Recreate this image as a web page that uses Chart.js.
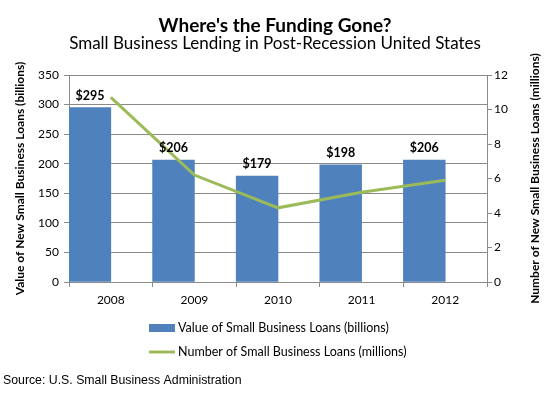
<!DOCTYPE html>
<html>
<head>
<meta charset="utf-8">
<script src="https://cdn.jsdelivr.net/npm/chart.js@4/dist/chart.umd.min.js"></script>
<style>
  html, body { margin: 0; padding: 0; background: #fff; }
  #wrap { width: 550px; height: 397px; position: relative; }
</style>
</head>
<body>
<div id="wrap"><canvas id="fundingChart" width="550" height="397"></canvas></div>
<script>
// chart data
const years = ['2008', '2009', '2010', '2011', '2012'];
const loanValues = [295, 206, 179, 198, 206];      // billions of dollars
const loanCounts = [10.7, 6.2, 4.3, 5.2, 5.9];     // millions of loans
const emptySlot = [null, null, null, null, null];  // keeps bars in the left half of each year
const leftTicks = [0, 50, 100, 150, 200, 250, 300, 350];
const rightTicks = [0, 2, 4, 6, 8, 10, 12];
const rightTitle = 'Number of New Small Business Loans (millions)';

const FONT = 'Lato, "Open Sans", sans-serif';
const GRID = '#8a8a8a';

// "$295" style labels above the bars
const barLabels = {
    id: 'barLabels',
    afterDatasetsDraw(chart) {
        const ctx = chart.ctx;
        const meta = chart.getDatasetMeta(0);
        ctx.save();
        ctx.font = 'bold 12.5px ' + FONT;
        ctx.fillStyle = '#000';
        ctx.textAlign = 'center';
        ctx.textBaseline = 'middle';
        meta.data.forEach(function (bar, i) {
            ctx.fillText('$' + chart.data.datasets[0].data[i], bar.x, bar.y - 12);
        });
        ctx.restore();
    }
};

// stacked legend under the plot, right axis title (reads bottom to top) and the source note
const stackedLegend = {
    id: 'stackedLegend',
    afterDraw(chart) {
        const ctx = chart.ctx;
        const x = 149;
        let row = 0;
        ctx.save();
        ctx.font = '12.5px ' + FONT;
        ctx.textBaseline = 'middle';
        chart.data.datasets.forEach(function (ds) {
            if (!ds.label) return;
            const y = 328 + row * 24;
            row++;
            if (ds.type === 'line') {
                ctx.strokeStyle = ds.borderColor;
                ctx.lineWidth = 3;
                ctx.beginPath();
                ctx.moveTo(x, y);
                ctx.lineTo(x + 26, y);
                ctx.stroke();
            } else {
                ctx.fillStyle = ds.backgroundColor;
                ctx.fillRect(x, y - 4, 26, 8);
            }
            ctx.fillStyle = '#000';
            ctx.fillText(ds.label, x + 29, y);
        });
        ctx.font = '12.3px "Liberation Sans", Arial, sans-serif';
        ctx.fillText('Source: U.S. Small Business Administration', 3, 381);

        const area = chart.chartArea;
        ctx.save();
        ctx.translate(535, (area.top + area.bottom) / 2);
        ctx.rotate(-Math.PI / 2);
        ctx.font = 'bold 12px ' + FONT;
        ctx.textAlign = 'center';
        ctx.fillText(rightTitle, 0, 0);
        ctx.restore();
        ctx.restore();
    }
};

const ctx = document.getElementById('fundingChart').getContext('2d');
const chart = new Chart(ctx, {
    type: 'bar',
    data: {
        labels: years,
        datasets: [{
            label: 'Value of Small Business Loans (billions)',
            data: loanValues,
            backgroundColor: '#4f81bd',
            yAxisID: 'y',
            order: 1
        }, {
            label: '',
            data: emptySlot,
            backgroundColor: 'rgba(0,0,0,0)',
            yAxisID: 'y',
            order: 2
        }, {
            type: 'line',
            label: 'Number of Small Business Loans (millions)',
            data: loanCounts,
            borderColor: '#9bbb59',
            backgroundColor: '#9bbb59',
            borderWidth: 3,
            pointRadius: 0,
            tension: 0,
            yAxisID: 'y1',
            order: 0
        }]
    },
    options: {
        responsive: false,
        animation: false,
        datasets: { bar: { barPercentage: 1, categoryPercentage: 1 } },
        layout: { padding: { left: 0, right: 0, top: 0, bottom: 85 } },
        plugins: {
            legend: { display: false },
            tooltip: { enabled: false },
            title: {
                display: true,
                text: "Where's the Funding Gone?",
                color: '#000',
                font: { family: FONT, size: 19, weight: 'bold', lineHeight: 1 },
                padding: { top: 16, bottom: 0 }
            },
            subtitle: {
                display: true,
                text: 'Small Business Lending in Post-Recession United States',
                color: '#000',
                font: { family: FONT, size: 17, lineHeight: 1 },
                padding: { top: 0, bottom: 23 }
            }
        },
        scales: {
            x: {
                offset: true,
                grid: { display: true, drawOnChartArea: false, color: GRID, tickLength: 5 },
                border: { color: GRID },
                ticks: { color: '#000', font: { family: FONT, size: 12 }, padding: 6 },
                afterFit(scale) { scale.height = 30; }
            },
            y: {
                position: 'left',
                min: 0,
                max: 350,
                afterBuildTicks(scale) { scale.ticks = leftTicks.map(v => ({ value: v })); },
                grid: { color: GRID, tickLength: 5 },
                border: { color: GRID },
                ticks: { color: '#000', font: { family: FONT, size: 12 }, padding: 5 },
                title: {
                    display: true,
                    text: 'Value of New Small Business Loans (billions)',
                    color: '#000',
                    font: { family: FONT, size: 12, weight: 'bold' },
                    padding: { top: 13, bottom: 0 }
                },
                afterFit(scale) { scale.width = 69; }
            },
            y1: {
                position: 'right',
                min: 0,
                max: 12,
                afterBuildTicks(scale) { scale.ticks = rightTicks.map(v => ({ value: v })); },
                grid: { drawOnChartArea: false, color: GRID, tickLength: 5 },
                border: { color: GRID },
                ticks: { color: '#000', font: { family: FONT, size: 12 }, padding: 2 },
                afterFit(scale) { scale.width = 63; }
            }
        }
    },
    plugins: [barLabels, stackedLegend]
});
</script>
</body>
</html>
